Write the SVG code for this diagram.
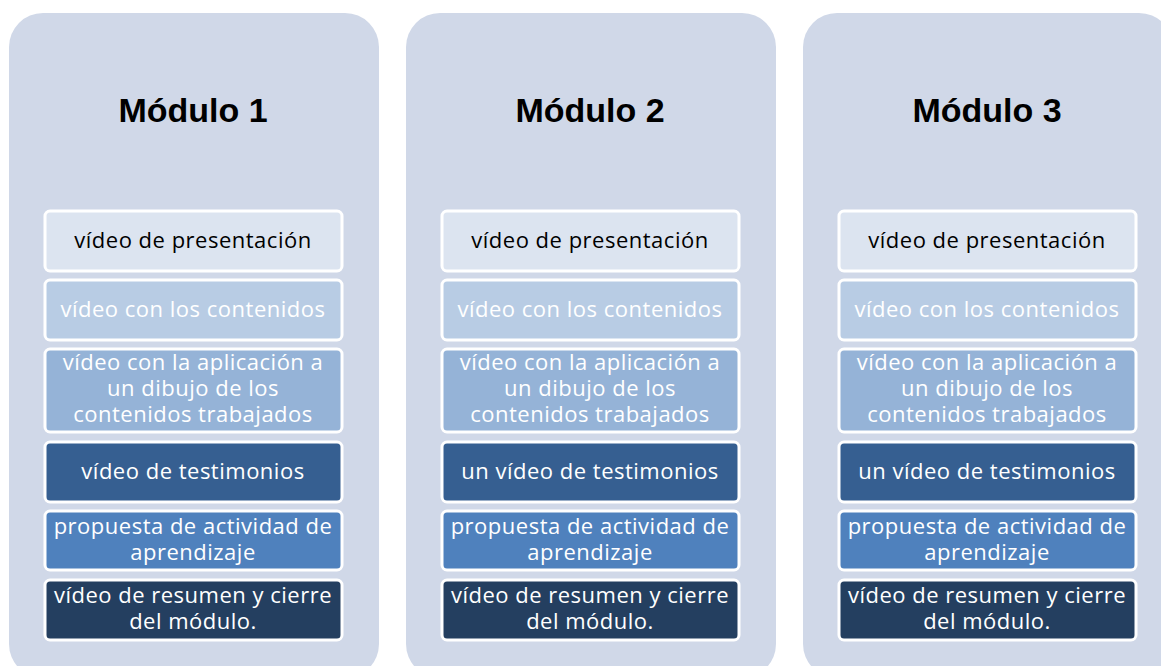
<svg xmlns="http://www.w3.org/2000/svg" width="1161" height="666" viewBox="0 0 1161 666">
<style>
.panel{fill:#D0D8E8}
.title{font-family:"Liberation Sans",Arial,sans-serif;font-weight:bold;font-size:34px;fill:#000;text-anchor:middle}
.box{stroke:#fff;stroke-width:3}
.t{font-family:"Open Sans","DejaVu Sans",sans-serif;font-size:22px;letter-spacing:0.5px;text-anchor:middle;fill:#fff}
.dark{fill:#000}
.c1{fill:#DCE4F0}.c2{fill:#B8CCE4}.c3{fill:#95B3D7}.c4{fill:#365F91}.c5{fill:#4F81BD}.c6{fill:#243F60}
</style>
<rect width="1161" height="666" fill="#fff"/>
<g id="modulo1">
<rect class="panel" x="9" y="13" width="370" height="665" rx="34"/>
<text class="title" x="193" y="122">Módulo 1</text>
<g id="m1-b1"><rect class="box c1" x="45" y="211" width="297" height="60" rx="5"/><text class="t dark" x="193" y="248">vídeo de presentación</text></g>
<g id="m1-b2"><rect class="box c2" x="45" y="280" width="297" height="60" rx="5"/><text class="t" x="193" y="317">vídeo con los contenidos</text></g>
<g id="m1-b3"><rect class="box c3" x="45" y="349" width="297" height="83" rx="5"/><text class="t" x="193" y="370">vídeo con la aplicación a</text><text class="t" x="193" y="396">un dibujo de los</text><text class="t" x="193" y="422">contenidos trabajados</text></g>
<g id="m1-b4"><rect class="box c4" x="45" y="442" width="297" height="60" rx="5"/><text class="t" x="193" y="479">vídeo de testimonios</text></g>
<g id="m1-b5"><rect class="box c5" x="45" y="511" width="297" height="59" rx="5"/><text class="t" x="193" y="534">propuesta de actividad de</text><text class="t" x="193" y="560">aprendizaje</text></g>
<g id="m1-b6"><rect class="box c6" x="45" y="580" width="297" height="60" rx="5"/><text class="t" x="193" y="603">vídeo de resumen y cierre</text><text class="t" x="193" y="629">del módulo.</text></g>
</g>
<g id="modulo2">
<rect class="panel" x="406" y="13" width="370" height="665" rx="34"/>
<text class="title" x="590" y="122">Módulo 2</text>
<g id="m2-b1"><rect class="box c1" x="442" y="211" width="297" height="60" rx="5"/><text class="t dark" x="590" y="248">vídeo de presentación</text></g>
<g id="m2-b2"><rect class="box c2" x="442" y="280" width="297" height="60" rx="5"/><text class="t" x="590" y="317">vídeo con los contenidos</text></g>
<g id="m2-b3"><rect class="box c3" x="442" y="349" width="297" height="83" rx="5"/><text class="t" x="590" y="370">vídeo con la aplicación a</text><text class="t" x="590" y="396">un dibujo de los</text><text class="t" x="590" y="422">contenidos trabajados</text></g>
<g id="m2-b4"><rect class="box c4" x="442" y="442" width="297" height="60" rx="5"/><text class="t" x="590" y="479">un vídeo de testimonios</text></g>
<g id="m2-b5"><rect class="box c5" x="442" y="511" width="297" height="59" rx="5"/><text class="t" x="590" y="534">propuesta de actividad de</text><text class="t" x="590" y="560">aprendizaje</text></g>
<g id="m2-b6"><rect class="box c6" x="442" y="580" width="297" height="60" rx="5"/><text class="t" x="590" y="603">vídeo de resumen y cierre</text><text class="t" x="590" y="629">del módulo.</text></g>
</g>
<g id="modulo3">
<rect class="panel" x="803" y="13" width="370" height="665" rx="34"/>
<text class="title" x="987" y="122">Módulo 3</text>
<g id="m3-b1"><rect class="box c1" x="839" y="211" width="297" height="60" rx="5"/><text class="t dark" x="987" y="248">vídeo de presentación</text></g>
<g id="m3-b2"><rect class="box c2" x="839" y="280" width="297" height="60" rx="5"/><text class="t" x="987" y="317">vídeo con los contenidos</text></g>
<g id="m3-b3"><rect class="box c3" x="839" y="349" width="297" height="83" rx="5"/><text class="t" x="987" y="370">vídeo con la aplicación a</text><text class="t" x="987" y="396">un dibujo de los</text><text class="t" x="987" y="422">contenidos trabajados</text></g>
<g id="m3-b4"><rect class="box c4" x="839" y="442" width="297" height="60" rx="5"/><text class="t" x="987" y="479">un vídeo de testimonios</text></g>
<g id="m3-b5"><rect class="box c5" x="839" y="511" width="297" height="59" rx="5"/><text class="t" x="987" y="534">propuesta de actividad de</text><text class="t" x="987" y="560">aprendizaje</text></g>
<g id="m3-b6"><rect class="box c6" x="839" y="580" width="297" height="60" rx="5"/><text class="t" x="987" y="603">vídeo de resumen y cierre</text><text class="t" x="987" y="629">del módulo.</text></g>
</g>
<g id="connectors"/>
</svg>
